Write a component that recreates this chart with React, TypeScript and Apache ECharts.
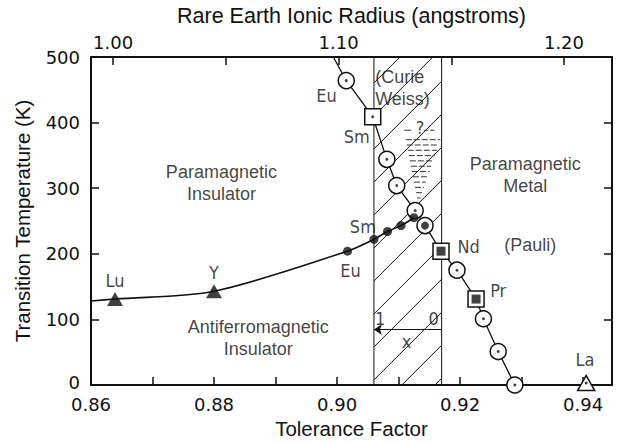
import React, { useEffect, useRef } from "react";
import * as echarts from "echarts";

// ---- data ----
const toleranceTicks = [0.86, 0.87, 0.88, 0.89, 0.9, 0.91, 0.92, 0.93, 0.94];
const toleranceLabels = [0.86, 0.88, 0.9, 0.92, 0.94];
const radiusTicks = [1.0, 1.05, 1.1, 1.15, 1.2];
const radiusLabels = [1.0, 1.1, 1.2];
const tempTicks = [0, 100, 200, 300, 400, 500];

// antiferromagnetic (Neel) boundary
const afCurve = [
  [0.86, 128], [0.8639, 131], [0.88, 143], [0.9017, 204], [0.906, 222],
  [0.9082, 234], [0.9104, 243], [0.9125, 255],
];
// paramagnetic insulator / metal boundary
const mitCurve = [
  [0.8994, 500], [0.9015, 464], [0.9058, 409], [0.9081, 344], [0.9097, 304],
  [0.9127, 266], [0.9143, 243], [0.9169, 204], [0.9195, 175], [0.9226, 131],
  [0.9238, 101], [0.9262, 51], [0.9289, 0],
];
const openCircles = [
  [0.9015, 464], [0.9081, 344], [0.9097, 304], [0.9127, 266], [0.9195, 175],
  [0.9238, 101], [0.9262, 51], [0.9289, 0],
];
const bigDotCircles = [[0.9143, 243]];
const openSquares = [[0.9058, 409]];
const filledSquares = [[0.9169, 204], [0.9226, 131]];
const filledTriangles = [[0.8639, 131], [0.88, 143]];
const openTriangles = [[0.9405, 3]];
const filledCircles = [[0.9017, 204], [0.906, 222], [0.9082, 234], [0.9104, 243], [0.9125, 255]];

const band = [0.906, 0.917];
const hatchAnchorT = 58;
const wedge = { topT: 377, bottomT: 276, topLeft: 0.9111, topRight: 0.9169, tip: 0.9132 };
const arrowT = 84.5;

const elementLabels = [
  { name: "Eu", value: [0.8983, 441] },
  { name: "Sm", value: [0.9032, 379] },
  { name: "Sm", value: [0.9042, 241] },
  { name: "Eu", value: [0.9022, 174] },
  { name: "Nd", value: [0.9214, 211] },
  { name: "Pr", value: [0.9262, 144] },
  { name: "La", value: [0.9403, 39] },
  { name: "Lu", value: [0.8639, 159] },
  { name: "Y", value: [0.88, 171] },
  { name: "1", value: [0.907, 101] },
  { name: "0", value: [0.9157, 101] },
  { name: "x", value: [0.9113, 66] },
  { name: "?", value: [0.9135, 393] },
];
const regionLabels = [
  { name: "Paramagnetic\nInsulator", value: [0.8812, 308] },
  { name: "Paramagnetic\nMetal", value: [0.9306, 320] },
  { name: "(Pauli)", value: [0.9314, 214] },
  { name: "Antiferromagnetic\nInsulator", value: [0.8872, 72] },
];
const curieLabel = [{ name: "(Curie\nWeiss)", value: [0.9062, 453] }];

const TICK_FONT = "'DejaVu Sans', sans-serif";
const TEXT_FONT = "Arial, 'Liberation Sans', sans-serif";
const NARROW_FONT = "'Liberation Sans Narrow', 'Arial Narrow', 'DejaVu Sans Condensed', sans-serif";

export default function App() {
  const ref = useRef<HTMLDivElement>(null);
  useEffect(() => {
    if (!ref.current) return;
    const chart = echarts.init(ref.current, undefined, { renderer: "svg" });
    const black = "#111";
    const axisLine = { show: true, onZero: false, lineStyle: { color: black, width: 2 } };
    const tickStyle = { lineStyle: { color: black, width: 1.5 }, length: 8, inside: true };

    const bandRender = (params: any, api: any) => {
      const x0 = api.coord([api.value(0), 0])[0];
      const x1 = api.coord([api.value(1), 0])[0];
      const yb = api.coord([band[0], 0])[1];
      const yt = api.coord([band[0], 500])[1];
      const style = { stroke: black, lineWidth: 1 };
      const children: any[] = [
        { type: "line", shape: { x1: x0, y1: yt, x2: x0, y2: yb }, style },
        { type: "line", shape: { x1: x1, y1: yt, x2: x1, y2: yb }, style },
      ];
      const spacing = 33;
      const c0 = x0 + api.coord([band[0], hatchAnchorT])[1];
      const cmin = x0 + yt;
      const cmax = x1 + yb;
      let c = c0;
      while (c - spacing > cmin) c -= spacing;
      for (; c < cmax; c += spacing) {
        const sx = Math.max(x0, c - yb);
        const ex = Math.min(x1, c - yt);
        if (ex > sx) {
          children.push({ type: "line", shape: { x1: sx, y1: c - sx, x2: ex, y2: c - ex }, style: { stroke: black, lineWidth: 1 } });
        }
      }
      // horizontal dashed wedge
      const tl = api.coord([wedge.topLeft, wedge.topT]);
      const tr = api.coord([wedge.topRight, wedge.topT]);
      const tp = api.coord([wedge.tip, wedge.bottomT]);
      for (let y = tl[1] + 2; y < tp[1] - 2; y += 5.3) {
        const f = (y - tl[1]) / (tp[1] - tl[1]);
        const lx = tl[0] + (tp[0] - tl[0]) * f;
        const rx = tr[0] + (tp[0] - tr[0]) * f;
        children.push({ type: "line", shape: { x1: lx, y1: y, x2: rx, y2: y }, style: { stroke: "#333", lineWidth: 1, lineDash: [6, 2] } });
      }
      // small dashes around the question mark
      const q = api.coord([wedge.tip, 393]);
      children.push({ type: "line", shape: { x1: q[0] - 14, y1: q[1] + 3, x2: q[0] - 7, y2: q[1] + 3 }, style: { stroke: "#333", lineWidth: 1 } });
      children.push({ type: "line", shape: { x1: q[0] + 6, y1: q[1] + 3, x2: q[0] + 17, y2: q[1] + 3 }, style: { stroke: "#333", lineWidth: 1, lineDash: [4, 2] } });
      return { type: "group", children };
    };

    const textSeries = (data: any[], font: string, size: number, align = "center") => ({
      type: "scatter",
      data,
      symbolSize: 0,
      silent: true,
      z: 10,
      label: {
        show: true,
        position: "inside",
        formatter: "{b}",
        color: black,
        fontFamily: font,
        fontSize: size,
        lineHeight: 22,
        align,
      },
    });

    chart.setOption({
      animation: false,
      backgroundColor: "#fff",
      grid: { left: 91, top: 56, width: 521, height: 333 },
      xAxis: [
        {
          type: "value",
          position: "bottom",
          min: 0.86,
          max: 0.9447,
          name: "Tolerance Factor",
          nameLocation: "middle",
          nameGap: 33,
          nameTextStyle: { fontFamily: TEXT_FONT, fontSize: 20.5, color: black },
          axisLine,
          axisTick: { ...tickStyle, customValues: toleranceTicks },
          axisLabel: {
            customValues: toleranceLabels,
            formatter: (v: number) => v.toFixed(2),
            fontFamily: TICK_FONT,
            fontSize: 18,
            lineHeight: 16,
            color: black,
            margin: 11,
          },
          splitLine: { show: false },
        },
        {
          type: "value",
          position: "top",
          min: 0.9902,
          max: 1.2213,
          name: "Rare Earth Ionic Radius (angstroms)",
          nameLocation: "middle",
          nameGap: 30,
          nameTextStyle: { fontFamily: TEXT_FONT, fontSize: 21.5, color: black },
          axisLine,
          axisTick: { ...tickStyle, customValues: radiusTicks },
          axisLabel: {
            customValues: radiusLabels,
            formatter: (v: number) => v.toFixed(2),
            fontFamily: TICK_FONT,
            fontSize: 18,
            color: black,
            margin: 6,
          },
          splitLine: { show: false },
        },
      ],
      yAxis: [
        {
          type: "value",
          position: "left",
          min: 0,
          max: 500,
          interval: 100,
          name: "Transition Temperature (K)",
          nameLocation: "middle",
          nameGap: 58,
          nameTextStyle: { fontFamily: TEXT_FONT, fontSize: 20.5, color: black },
          axisLine,
          axisTick: { ...tickStyle, customValues: tempTicks },
          axisLabel: {
            fontFamily: TICK_FONT,
            fontSize: 18,
            lineHeight: 14,
            color: black,
            margin: 11,
            formatter: (v: number) => (v === 0 ? "{z|0}" : String(v)),
            rich: { z: { fontFamily: TICK_FONT, fontSize: 18, lineHeight: 14, color: black, padding: [0, 0, 5, 0] } },
          },
          splitLine: { show: false },
        },
        {
          type: "value",
          position: "right",
          min: 0,
          max: 500,
          interval: 100,
          axisLine,
          axisTick: { ...tickStyle },
          axisLabel: { show: false },
          splitLine: { show: false },
        },
      ],
      series: [
        {
          type: "custom",
          renderItem: bandRender,
          data: [band],
          encode: { x: [0, 1] },
          silent: true,
          z: 1,
        },
        {
          type: "lines",
          coordinateSystem: "cartesian2d",
          data: [{ coords: [[band[1], arrowT], [band[0], arrowT]] }],
          symbol: ["none", "arrow"],
          symbolSize: 8,
          lineStyle: { color: black, width: 1, opacity: 1 },
          silent: true,
          z: 3,
        },
        {
          type: "line",
          data: afCurve,
          smooth: 0.3,
          showSymbol: false,
          lineStyle: { color: black, width: 1.6 },
          silent: true,
          z: 3,
        },
        {
          type: "line",
          data: mitCurve,
          showSymbol: false,
          lineStyle: { color: black, width: 1.3 },
          silent: true,
          z: 3,
        },
        {
          type: "scatter",
          data: openCircles.concat(bigDotCircles),
          symbol: "circle",
          symbolSize: 16,
          itemStyle: { color: "#fff", borderColor: black, borderWidth: 1.5, opacity: 1 },
          silent: true,
          z: 4,
        },
        {
          type: "scatter",
          data: openCircles.concat(openSquares, openTriangles),
          symbol: "circle",
          symbolSize: 3,
          itemStyle: { color: black },
          silent: true,
          z: 6,
        },
        {
          type: "scatter",
          data: bigDotCircles,
          symbol: "circle",
          symbolSize: 8,
          itemStyle: { color: black },
          silent: true,
          z: 6,
        },
        {
          type: "scatter",
          data: openSquares.concat(filledSquares),
          symbol: "rect",
          symbolSize: 16,
          itemStyle: { color: "#fff", borderColor: black, borderWidth: 1.5, opacity: 1 },
          silent: true,
          z: 4,
        },
        {
          type: "scatter",
          data: filledSquares,
          symbol: "rect",
          symbolSize: 9,
          itemStyle: { color: black },
          silent: true,
          z: 6,
        },
        {
          type: "scatter",
          data: openTriangles,
          symbol: "triangle",
          symbolSize: [17, 15],
          itemStyle: { color: "#fff", borderColor: black, borderWidth: 1.5, opacity: 1 },
          silent: true,
          z: 4,
        },
        {
          type: "scatter",
          data: filledTriangles,
          symbol: "triangle",
          symbolSize: [16, 14],
          itemStyle: { color: black },
          silent: true,
          z: 6,
        },
        {
          type: "scatter",
          data: filledCircles,
          symbol: "circle",
          symbolSize: 9,
          itemStyle: { color: black },
          silent: true,
          z: 7,
        },
        textSeries(elementLabels, NARROW_FONT, 18),
        textSeries(regionLabels, TEXT_FONT, 18),
        textSeries(curieLabel, TEXT_FONT, 18, "left"),
      ],
    });
    return () => chart.dispose();
  }, []);
  return <div ref={ref} style={{ position: "absolute", left: 0, top: 0, width: 621, height: 444 }} />;
}
